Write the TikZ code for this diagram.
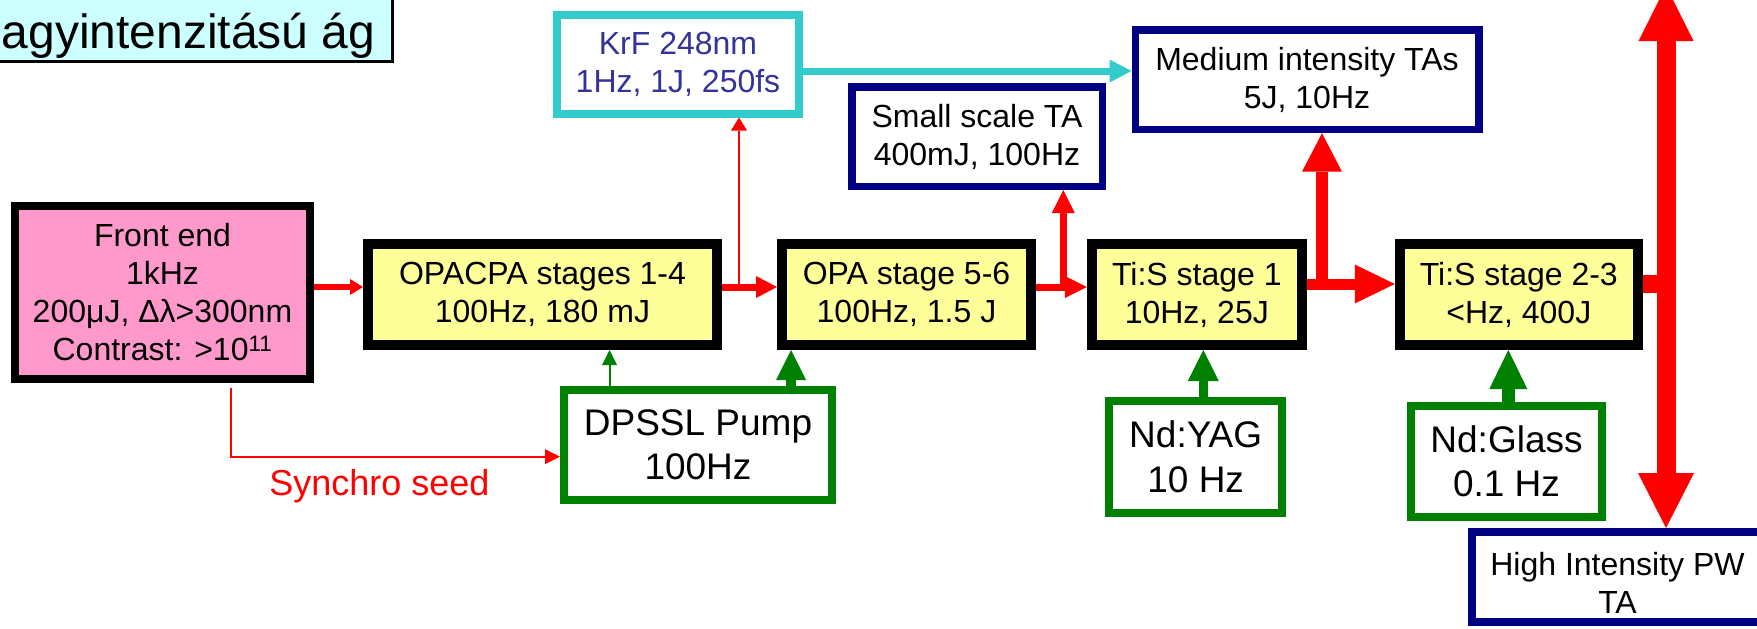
\documentclass[tikz,border=0pt]{standalone}
\usepackage{fontspec}
\setmainfont{Liberation Sans}
\usetikzlibrary{arrows.meta}
\definecolor{pinkfill}{HTML}{FF99CC}
\definecolor{yelfill}{HTML}{FFFF99}
\definecolor{turq}{HTML}{33CCCC}
\definecolor{navyb}{HTML}{000080}
\definecolor{grn}{HTML}{008000}
\definecolor{redb}{HTML}{FF0000}
\definecolor{titlecyan}{HTML}{CCFFFF}
\definecolor{krftext}{HTML}{333399}
\begin{document}
\begin{tikzpicture}[x=1pt,y=-1pt,
 box/.style={draw, inner sep=0pt, align=center, font=\fontsize{32}{38}\selectfont},
 stagebox/.style={box, fill=yelfill, line width=10pt, minimum height=101pt},
 tabox/.style={box, draw=navyb, fill=white, line width=7.5pt},
 pumpbox/.style={box, draw=grn, fill=white, line width=8pt, font=\fontsize{37}{44.5}\selectfont},
 beam/.style={draw=redb},
 pumpbeam/.style={draw=grn},
]
\useasboundingbox (0,0) rectangle (1757,629);

% title
\node[draw=black, fill=titlecyan, line width=3pt, minimum width=500pt, minimum height=140pt, anchor=south east, inner sep=0pt] (titlebox) at (394.3,63.3) {};
\node[font=\fontsize{48}{56}\selectfont, anchor=base west, inner sep=0pt] (title) at (1.5,48.3) {agyintenzitású ág};

% boxes
\node[box, fill=pinkfill, line width=8pt, minimum width=295pt, minimum height=173pt] (fe) at (162.5,292.5) {Front end\\1kHz\\200μJ, Δλ>300nm\\Contrast: >10\textsuperscript{11}};
\node[stagebox, minimum width=349pt] (opacpa) at (542.5,294.5) {OPACPA stages 1-4\\100Hz, 180 mJ};
\node[stagebox, minimum width=249pt] (opa) at (906.5,294.5) {OPA stage 5-6\\100Hz, 1.5 J};
\node[stagebox, minimum width=210pt] (tis1) at (1196.8,294.5) {Ti:S stage 1\\10Hz, 25J};
\node[stagebox, minimum width=238pt] (tis2) at (1518.8,294.5) {Ti:S stage 2-3\\<Hz, 400J};
\node[box, draw=turq, fill=white, line width=8pt, text=krftext, minimum width=242pt, minimum height=99pt] (krf) at (678,64) {KrF 248nm\\1Hz, 1J, 250fs};
\node[tabox, minimum width=250.5pt, minimum height=99.5pt] (small) at (977,136.5) {Small scale TA\\400mJ, 100Hz};
\node[tabox, minimum width=343.5pt, minimum height=99.5pt] (medium) at (1307,79.7) {Medium intensity TAs\\5J, 10Hz};
\node[tabox, line width=8pt, minimum width=291pt, minimum height=90pt] (hi) at (1617.5,577) {\rule{0pt}{35pt}High Intensity PW\\TA};
\node[pumpbox, minimum width=268pt, minimum height=110pt] (dpssl) at (698,445) {DPSSL Pump\\100Hz};
\node[pumpbox, minimum width=173.5pt, minimum height=112pt] (yag) at (1195.7,457) {Nd:YAG\\10 Hz};
\node[pumpbox, minimum width=191pt, minimum height=111pt] (glass) at (1506.5,461.5) {Nd:Glass\\0.1 Hz};
\node[text=redb, font=\fontsize{36}{43}\selectfont, anchor=base, inner sep=0pt] (syn) at (379.5,495) {Synchro seed};

% helper coordinates
\coordinate (row) at (0,287);
\coordinate (rowb) at (0,284);
\coordinate (drow) at (0,71);
\coordinate (synrow) at (0,456.7);
\coordinate (kx) at (739,0);
\coordinate (fx) at (1063.3,0);
\coordinate (hx) at (1322,0);
\coordinate (sx) at (231.4,0);
\coordinate (gx1) at (609.5,0);
\coordinate (gx2) at (791,0);
\coordinate (gx3) at (1203.3,0);
\coordinate (gx4) at (1508.3,0);
\coordinate (top) at (1666,-14);

% red beams
\draw[beam, line width=6pt, -{Triangle[length=13pt,width=16pt,line width=0pt]}] (fe.east |- row) -- (opacpa.west |- row);
\draw[beam, line width=7pt, -{Triangle[length=21pt,width=22pt,line width=0pt]}] (opacpa.east |- row) -- (opa.west |- row);
\draw[beam, line width=1.5pt, -{Triangle[length=13pt,width=16pt,line width=0pt]}] (row -| kx) -- (krf.south -| kx);
\draw[beam, line width=7pt, -{Triangle[length=22pt,width=22pt,line width=0pt]}] (opa.east |- row) -- (tis1.west |- row);
\draw[beam, line width=7pt, -{Triangle[length=23pt,width=23pt,line width=0pt]}] (row -| fx) -- (small.south -| fx);
\draw[beam, line width=11pt, -{Triangle[length=40pt,width=39pt,line width=0pt]}] (tis1.east |- rowb) -- (tis2.west |- rowb);
\draw[beam, line width=12pt, -{Triangle[length=38.5pt,width=40pt,line width=0pt]}] (rowb -| hx) -- (medium.south -| hx);
\draw[beam, line width=18pt] (tis2.east |- rowb) -- (rowb -| top);
\draw[beam, line width=19pt, {Triangle[length=55pt,width=55pt,line width=0pt]}-{Triangle[length=55pt,width=56pt,line width=0pt]}] (top) -- (hi.north -| top);
\draw[beam, line width=2pt, -{Triangle[length=15pt,width=15pt,line width=0pt]}] (fe.south -| sx) ++(0,5) |- (dpssl.west |- synrow);

% cyan beam
\draw[turq, line width=7pt, -{Triangle[length=22pt,width=23pt,line width=0pt]}] (krf.east |- drow) -- (medium.west |- drow);

% green pumps
\draw[pumpbeam, line width=2pt, -{Triangle[length=15pt,width=15pt,line width=0pt]}] (dpssl.north -| gx1) -- (opacpa.south -| gx1);
\draw[pumpbeam, line width=10pt, -{Triangle[length=30pt,width=30pt,line width=0pt]}] (dpssl.north -| gx2) -- (opa.south -| gx2);
\draw[pumpbeam, line width=9pt, -{Triangle[length=31pt,width=31pt,line width=0pt]}] (yag.north -| gx3) -- (tis1.south -| gx3);
\draw[pumpbeam, line width=13pt, -{Triangle[length=39pt,width=38pt,line width=0pt]}] (glass.north -| gx4) -- (tis2.south -| gx4);
\end{tikzpicture}
\end{document}
